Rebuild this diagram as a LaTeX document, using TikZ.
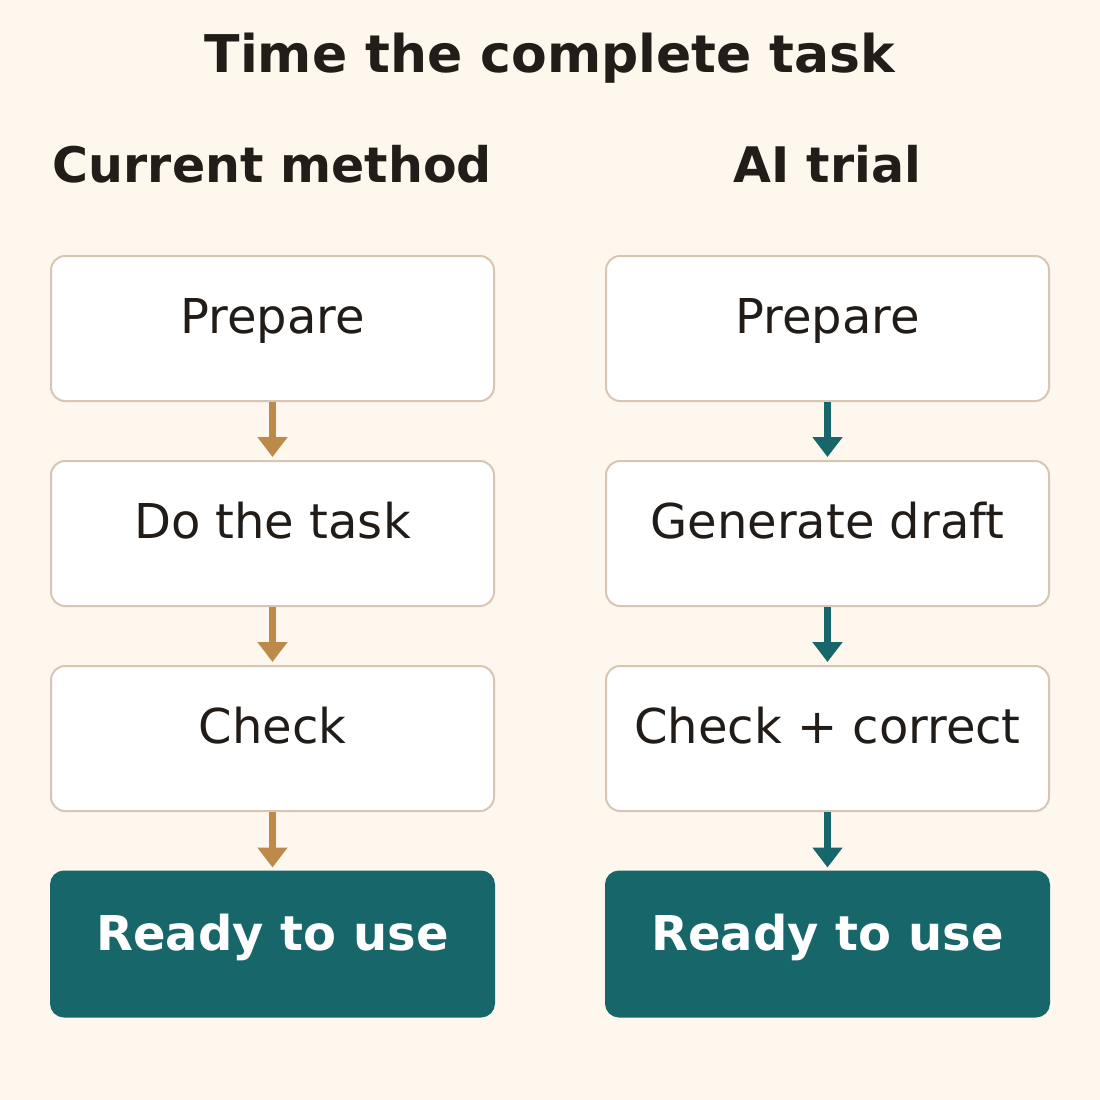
\documentclass[tikz,border=0pt]{standalone}
\usepackage{fontspec}
\setmainfont{DejaVu Sans}
\usetikzlibrary{arrows.meta}
\definecolor{paper}{HTML}{FDF7EE}
\definecolor{ink}{HTML}{231D19}
\definecolor{edge}{HTML}{D6C6B3}
\definecolor{ochre}{HTML}{BE8A4A}
\definecolor{teal}{HTML}{17666A}
\tikzset{
  stepbox/.style={draw=edge, line width=2pt, fill=white, rounded corners=14pt,
    minimum width=443pt, minimum height=145pt, inner sep=0pt},
  donebox/.style={stepbox, draw=teal, fill=teal, rounded corners=13pt},
  steptext/.style={anchor=base, font=\fontsize{48}{56}\selectfont, text=ink!95!black},
  donetext/.style={anchor=base, font=\fontsize{48}{56}\selectfont\bfseries, text=white},
  headtext/.style={anchor=base, font=\fontsize{49}{57}\selectfont\bfseries, text=ink},
  flow/.style={line width=6.5pt, -{Triangle[width=29pt,length=20pt]}, shorten >=3pt},
}
\begin{document}
\begin{tikzpicture}[x=1pt, y=-1pt]
			%%%%% START %%%%%
			
			\fill[paper] (0, 0) rectangle (1100, 1100);
			\useasboundingbox (0, 0) rectangle (1100, 1100);
			
			\node[anchor=base, font=\fontsize{52}{60}\selectfont\bfseries, text=ink] (title) at (550, 72) {Time the complete task};
			\node[headtext] (headA) at (272.5, 182) {Current method};
			\node[headtext] (headB) at (827.5, 182) {AI trial};
			
			%% current method
			\node[stepbox] (a1) at (272.5, 328.5) {};
			\node[stepbox] (a2) at (272.5, 533.5) {};
			\node[stepbox] (a3) at (272.5, 738.5) {};
			\node[donebox] (a4) at (272.5, 944) {};
			
			\node[steptext] (a1t) at ([yshift=-78pt]a1.north) {Prepare};
			\node[steptext] (a2t) at ([yshift=-78pt]a2.north) {Do the task};
			\node[steptext] (a3t) at ([yshift=-78pt]a3.north) {Check};
			\node[donetext] (a4t) at ([yshift=-80pt]a4.north) {Ready to use};
			
			\draw[flow, ochre] (a1) -- (a2);
			\draw[flow, ochre] (a2) -- (a3);
			\draw[flow, ochre] (a3) -- (a4);
			
			%% AI trial
			\node[stepbox] (b1) at (827.5, 328.5) {};
			\node[stepbox] (b2) at (827.5, 533.5) {};
			\node[stepbox] (b3) at (827.5, 738.5) {};
			\node[donebox] (b4) at (827.5, 944) {};
			
			\node[steptext] (b1t) at ([yshift=-78pt]b1.north) {Prepare};
			\node[steptext] (b2t) at ([yshift=-78pt]b2.north) {Generate draft};
			\node[steptext] (b3t) at ([yshift=-78pt]b3.north) {Check + correct};
			\node[donetext] (b4t) at ([yshift=-80pt]b4.north) {Ready to use};
			
			\draw[flow, teal] (b1) -- (b2);
			\draw[flow, teal] (b2) -- (b3);
			\draw[flow, teal] (b3) -- (b4);
			
			%%%%% END %%%%%
\end{tikzpicture}
\end{document}
